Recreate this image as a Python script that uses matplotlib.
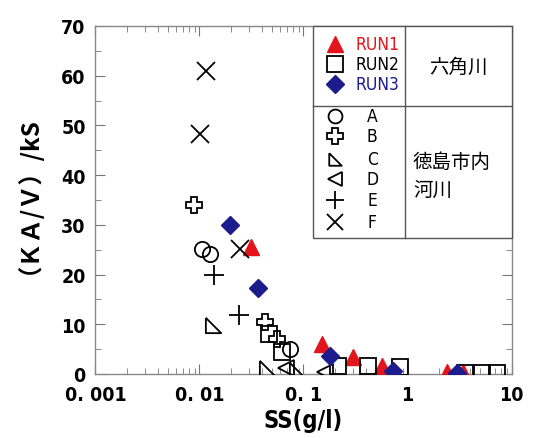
import matplotlib
matplotlib.use('Agg')
import matplotlib.pyplot as plt
from matplotlib.patches import Rectangle
from matplotlib.ticker import FixedLocator, LogLocator, NullFormatter

run1_x = [0.031, 0.15, 0.30, 0.57, 2.4, 3.4]
run1_y = [25.6, 6.0, 3.4, 1.6, 0.4, 0.4]
run2_x = [0.047, 0.062, 0.215, 0.42, 0.85, 3.6, 5.2, 7.3]
run2_y = [8.0, 4.5, 1.6, 1.6, 1.4, 0.3, 0.3, 0.3]
run3_x = [0.0196, 0.0365, 0.18, 0.73, 3.0]
run3_y = [30.0, 17.3, 3.6, 0.6, 0.3]

a_x = [0.0105, 0.0126, 0.074]
a_y = [25.2, 24.1, 5.0]
b_x = [0.0088, 0.043, 0.056]
b_y = [34.0, 10.5, 7.0]
c_x = [0.0135, 0.045, 0.087]
c_y = [9.9, 1.2, 0.9]
d_x = [0.068, 0.16]
d_y = [1.2, 0.5]
e_x = [0.0138, 0.024]
e_y = [19.9, 11.9]
f_x = [0.0101, 0.0116, 0.0246]
f_y = [48.3, 61.0, 25.2]

x_ticks = [0.001, 0.01, 0.1, 1, 10]
x_labels = ['0. 001', '0. 01', '0. 1', '1', '10']
y_ticks = [0, 10, 20, 30, 40, 50, 60, 70]

RED = '#e3141b'
NAVY = '#1c1c8c'
CJK = ['Noto Sans CJK JP', 'DejaVu Sans']
NUM = dict(family='DejaVu Sans', stretch='condensed')

# right-angle triangle marker (vertical left side, flat bottom)
tri_c = [(-1, 1), (-1, -1), (1, -1), (-1, 1)]

fig = plt.figure(figsize=(5.39, 4.39), dpi=100)
ax = fig.add_axes([0.177, 0.1458, 0.772, 0.7927])

ax.plot(run1_x, run1_y, '^', color=RED, ms=11, ls='none', zorder=3)
ax.plot(run2_x, run2_y, 's', mfc='none', mec='black', mew=1.3, ms=12, ls='none', zorder=3)
ax.plot(run3_x, run3_y, 'D', color=NAVY, ms=9, ls='none', zorder=3.1)
ax.plot(a_x, a_y, 'o', mfc='none', mec='black', mew=1.3, ms=11, ls='none', zorder=3)
ax.plot(b_x, b_y, 'P', mfc='none', mec='black', mew=1.3, ms=12, ls='none', zorder=3)
ax.plot(c_x, c_y, marker=tri_c, mfc='none', mec='black', mew=1.3, ms=11, ls='none', zorder=3)
ax.plot(d_x, d_y, '<', mfc='none', mec='black', mew=1.3, ms=12, ls='none', zorder=3)
ax.plot(e_x, e_y, '+', color='black', mew=1.3, ms=14, ls='none', zorder=3)
ax.plot(f_x, f_y, 'x', color='black', mew=1.3, ms=13, ls='none', zorder=3.2)

ax.set_xscale('log')
ax.set_xlim(0.001, 10)
ax.set_ylim(0, 70)
ax.xaxis.set_major_locator(FixedLocator(x_ticks))
ax.xaxis.set_minor_locator(LogLocator(base=10, subs=range(2, 10)))
ax.xaxis.set_minor_formatter(NullFormatter())
ax.set_xticklabels(x_labels, fontweight='bold', fontsize=14, **NUM)
ax.yaxis.set_major_locator(FixedLocator(y_ticks))
ax.yaxis.set_minor_locator(FixedLocator([5, 15, 25, 35, 45, 55, 65]))
ax.set_yticklabels([str(v) for v in y_ticks], fontweight='bold', fontsize=14, **NUM)
ax.tick_params(which='both', direction='in', top=True, right=True, color='#777777')
ax.tick_params(axis='x', pad=8)
ax.tick_params(axis='y', pad=7)
ax.tick_params(which='major', length=7)
ax.tick_params(which='minor', length=4)
for s in ax.spines.values():
    s.set_color('#888888')
    s.set_linewidth(1.0)

ax.set_ylabel('（ＫＡ/Ｖ）/kS', family=CJK, fontweight='bold', fontsize=17.5)
ax.yaxis.set_label_coords(-0.16, 0.534)
ax.set_xlabel('SS(g/l)', fontweight='bold', fontsize=17, labelpad=3, **NUM)

# legend table in axes coordinates
tx0, tx1, tx2 = 0.523, 0.744, 1.0
ty_top, ty_mid, ty_bot = 1.0, 0.770, 0.391
ax.add_patch(Rectangle((tx0, ty_bot), tx2 - tx0, ty_top - ty_bot, transform=ax.transAxes,
                       facecolor='white', edgecolor='#555555', lw=1.0, zorder=5, clip_on=False))
ax.plot([tx1, tx1], [ty_bot, ty_top], color='#555555', lw=1.0, transform=ax.transAxes, zorder=6, clip_on=False)
ax.plot([tx0, tx2], [ty_mid, ty_mid], color='#555555', lw=1.0, transform=ax.transAxes, zorder=6, clip_on=False)

mx, lx = 0.577, 0.625
run_rows = [0.948, 0.890, 0.833]
run_styles = [dict(marker='^', color=RED, ms=11),
              dict(marker='s', mfc='none', mec='black', mew=1.3, ms=11),
              dict(marker='D', color=NAVY, ms=9)]
run_names = ['RUN1', 'RUN2', 'RUN3']
run_colors = [RED, 'black', NAVY]
for yy, st, nm, cl in zip(run_rows, run_styles, run_names, run_colors):
    ax.plot([mx], [yy], ls='none', transform=ax.transAxes, zorder=7, clip_on=False, **st)
    ax.text(lx, yy, nm, color=cl, fontsize=12.5, transform=ax.transAxes,
            ha='left', va='center', zorder=7, **NUM)

site_rows = [0.741, 0.683, 0.618, 0.560, 0.500, 0.437]
site_styles = [dict(marker='o', mfc='none', mec='black', mew=1.3, ms=10),
               dict(marker='P', mfc='none', mec='black', mew=1.3, ms=11),
               dict(marker=tri_c, mfc='none', mec='black', mew=1.3, ms=9),
               dict(marker='<', mfc='none', mec='black', mew=1.3, ms=10),
               dict(marker='+', color='black', mew=1.3, ms=13),
               dict(marker='x', color='black', mew=1.3, ms=12)]
site_names = ['A', 'B', 'C', 'D', 'E', 'F']
for yy, st, nm in zip(site_rows, site_styles, site_names):
    ax.plot([mx], [yy], ls='none', transform=ax.transAxes, zorder=7, clip_on=False, **st)
    ax.text(0.665, yy, nm, color='black', fontsize=12.5, transform=ax.transAxes,
            ha='center', va='center', zorder=7, **NUM)

ax.text(0.872, 0.885, '六角川', family=CJK, fontsize=14, transform=ax.transAxes,
        ha='center', va='center', zorder=7)
ax.text(0.763, 0.612, '徳島市内', family=CJK, fontsize=14, transform=ax.transAxes,
        ha='left', va='center', zorder=7)
ax.text(0.763, 0.530, '河川', family=CJK, fontsize=14, transform=ax.transAxes,
        ha='left', va='center', zorder=7)

plt.savefig('out.png', dpi=100)
